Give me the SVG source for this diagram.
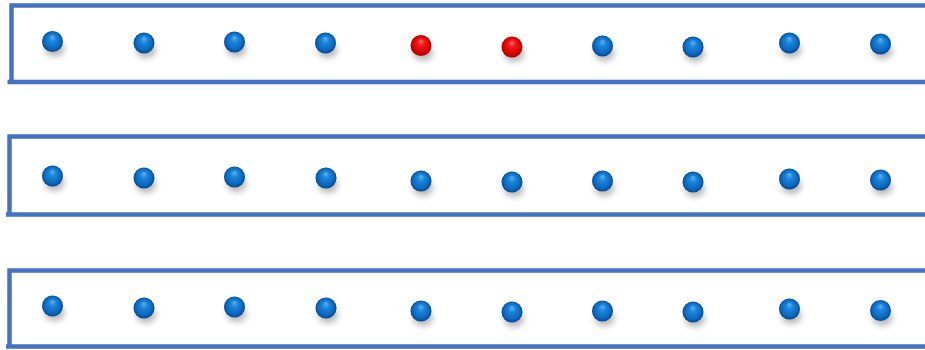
<svg xmlns="http://www.w3.org/2000/svg" xmlns:xlink="http://www.w3.org/1999/xlink" width="925" height="350" viewBox="0 0 925 350">
<style>
.frame{fill:none;stroke:#4472C4;stroke-width:4.5;stroke-linecap:butt}
</style>
<defs>
<radialGradient id="gb" cx="0.5" cy="0.5" r="0.5" fx="0.5" fy="0.28">
<stop offset="0" stop-color="#5ab4f5"/>
<stop offset="0.35" stop-color="#1a84d8"/>
<stop offset="0.8" stop-color="#0a66be"/>
<stop offset="1" stop-color="#04478e"/>
</radialGradient>
<radialGradient id="gr" cx="0.5" cy="0.5" r="0.5" fx="0.5" fy="0.28">
<stop offset="0" stop-color="#ff6a6a"/>
<stop offset="0.35" stop-color="#f01818"/>
<stop offset="0.8" stop-color="#d80000"/>
<stop offset="1" stop-color="#a00000"/>
</radialGradient>
<filter id="sh" x="-1" y="-1" width="3" height="3"><feGaussianBlur stdDeviation="3"/></filter>
<g id="blue"><ellipse cx="2" cy="7" rx="10" ry="8" fill="#000" opacity="0.28" filter="url(#sh)"/><circle r="10.5" fill="url(#gb)"/></g>
<g id="red"><ellipse cx="2" cy="7" rx="10" ry="8" fill="#000" opacity="0.28" filter="url(#sh)"/><circle r="10.5" fill="url(#gr)"/></g>
</defs>
<rect width="925" height="350" fill="#fff"/>
<g id="box1"><path class="frame" d="M925 5.5 H11.5 V82 M7.5 82 H925"/></g>
<g id="box2"><path class="frame" d="M925 136.5 H9.5 V214.5 M6 214.5 H925"/></g>
<g id="box3"><path class="frame" d="M925 270.5 H9.5 V346.5 M6 346.5 H925"/></g>
<g id="row1">
<use xlink:href="#blue" x="52.5" y="41.5"/>
<use xlink:href="#blue" x="144" y="43"/>
<use xlink:href="#blue" x="234.5" y="42"/>
<use xlink:href="#blue" x="325.5" y="43"/>
<use xlink:href="#red" x="421" y="45.5"/>
<use xlink:href="#red" x="512" y="47"/>
<use xlink:href="#blue" x="602.5" y="46"/>
<use xlink:href="#blue" x="693" y="47"/>
<use xlink:href="#blue" x="789.5" y="43"/>
<use xlink:href="#blue" x="880.5" y="44"/>
</g>
<g id="row2">
<use xlink:href="#blue" x="52.5" y="176"/>
<use xlink:href="#blue" x="144" y="178"/>
<use xlink:href="#blue" x="234.5" y="177"/>
<use xlink:href="#blue" x="326" y="178"/>
<use xlink:href="#blue" x="421" y="181"/>
<use xlink:href="#blue" x="512" y="182"/>
<use xlink:href="#blue" x="602.5" y="181"/>
<use xlink:href="#blue" x="693" y="182"/>
<use xlink:href="#blue" x="789.5" y="179"/>
<use xlink:href="#blue" x="880.5" y="180"/>
</g>
<g id="row3">
<use xlink:href="#blue" x="52.5" y="306"/>
<use xlink:href="#blue" x="144" y="308"/>
<use xlink:href="#blue" x="234.5" y="307"/>
<use xlink:href="#blue" x="326" y="308"/>
<use xlink:href="#blue" x="421" y="311"/>
<use xlink:href="#blue" x="512" y="312"/>
<use xlink:href="#blue" x="602.5" y="311"/>
<use xlink:href="#blue" x="693" y="312"/>
<use xlink:href="#blue" x="789.5" y="309"/>
<use xlink:href="#blue" x="880.5" y="310.5"/>
</g>
</svg>
